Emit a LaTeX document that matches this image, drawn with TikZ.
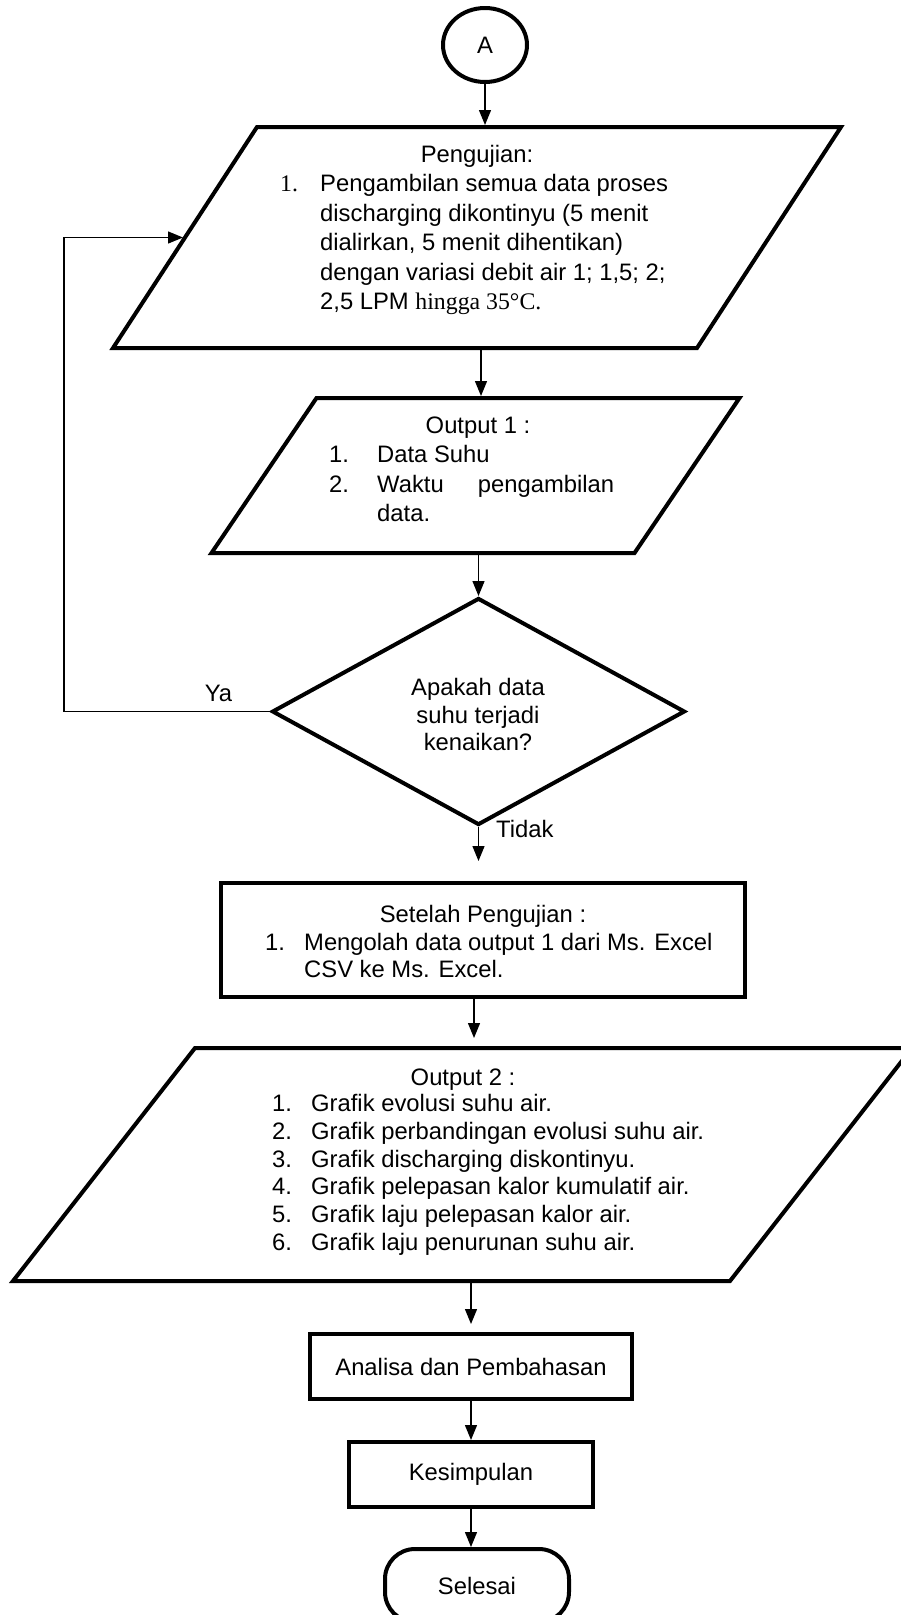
\documentclass[tikz,border=0pt]{standalone}
\usepackage{fontspec}
\setmainfont{Liberation Sans}
\newfontfamily\timesfont{Liberation Serif}
\usetikzlibrary{arrows.meta,positioning,shapes.geometric}
\newcommand{\fs}[1]{\fontsize{23.8}{#1}\selectfont}
% data box: name, cx, cy, side, height, skew
\newcommand{\iobox}[6]{%
  \node[inner sep=0pt,outer sep=2pt,minimum width=#4pt,minimum height=#5pt] (#1) at (#2,#3) {};
  \draw[line width=4pt] (#2-#4/2+#6/2,#3-#5/2) -- ++(#4,0) -- ++(-#6,#5) -- ++(-#4,0) -- cycle;
}

\tikzset{
  box/.style={draw,line width=4pt,inner sep=0pt},
  txt/.style={inner sep=0pt,font=\fs{28}},
  arr/.style={-{Triangle[length=15pt,width=12pt]},line width=1.3pt},
}

\begin{document}
\begin{tikzpicture}[x=1pt,y=-1pt]
  \fill[white] (0,0) rectangle (900,1615);
  \useasboundingbox (0,0) rectangle (900,1615);

  % connector A
  \node[box,txt,ellipse,minimum width=84pt,minimum height=74pt] (A) at (485,45) {A};

  % pengujian
  \iobox{uji}{477}{237.5}{584}{221}{144}
  \node[txt,anchor=base] (ujiT) at (477,162.5) {Pengujian:};
  \node[txt,anchor=base west] (ujiL) at (280,191.5) {\fs{29.5}%
    \begin{tabular}[t]{@{}p{40pt}@{}l@{}}
      {\timesfont 1.} & Pengambilan semua data proses\\
      & discharging dikontinyu (5 menit\\
      & dialirkan, 5 menit dihentikan)\\
      & dengan variasi debit air 1; 1,5; 2;\\
      & 2,5 LPM {\timesfont hingga 35°C.}
    \end{tabular}};

  % output 1
  \iobox{out1}{475.5}{475.5}{423}{155}{105}
  \node[txt,anchor=base] (out1T) at (478,433.5) {Output 1 :};
  \node[txt,anchor=base west] (out1L) at (329,462.5) {\fs{29.6}%
    \begin{tabular}[t]{@{}p{48pt}@{}l@{}}
      1. & Data Suhu\\
      2. & \makebox[237pt][s]{Waktu pengambilan}\\
      & data.
    \end{tabular}};

  % keputusan
  \node[box,diamond,minimum width=413pt,minimum height=227pt] (dec) at (478.5,711.5) {};
  \node[txt,anchor=base] (decT) at (478,695.5) {\fs{27.5}%
    \begin{tabular}[t]{@{}c@{}}Apakah data\\suhu terjadi\\kenaikan?\end{tabular}};
  \coordinate (fbx) at (64,711.5);
  \node[txt,anchor=base west] (tidak) at (496,837.5) {Tidak};

  % setelah pengujian
  \node[box,minimum width=524pt,minimum height=114pt] (proc) at (483,940) {};
  \node[txt,anchor=base] (procT) at (483,922.5) {Setelah Pengujian :};
  \node[txt,anchor=base west] (procL) at (265,950.5) {\fs{26.5}%
    \begin{tabular}[t]{@{}p{39pt}@{}l@{}}
      1. & Mengolah data output 1 dari Ms. Excel\\
      & CSV ke Ms. Excel.
    \end{tabular}};

  % output 2
  \iobox{out2}{462.5}{1164.5}{717}{233}{182}
  \node[txt,anchor=base] (out2T) at (463,1085.5) {Output 2 :};
  \node[txt,anchor=base west] (out2L) at (272,1111.5) {\fs{27.8}%
    \begin{tabular}[t]{@{}p{39pt}@{}l@{}}
      1. & Grafik evolusi suhu air.\\
      2. & Grafik perbandingan evolusi suhu air.\\
      3. & Grafik discharging diskontinyu.\\
      4. & Grafik pelepasan kalor kumulatif air.\\
      5. & Grafik laju pelepasan kalor air.\\
      6. & Grafik laju penurunan suhu air.
    \end{tabular}};

  % akhir
  \node[box,txt,minimum width=322pt,minimum height=65pt] (anal) at (471,1366.5) {Analisa dan Pembahasan};
  \node[box,txt,minimum width=244pt,minimum height=65pt] (kes) at (471,1474.5) {Kesimpulan};
  \node[box,txt,rounded corners=30pt,minimum width=184pt,minimum height=73pt] (fin) at (477,1585.5) {Selesai};

  % panah
  \draw[arr] (A.south) -- (A.south |- uji.north);
  \draw[arr] ([xshift=4pt]uji.south) -- ([xshift=4pt]uji.south |- out1.north);
  \draw[arr] (out1.south -| dec.north) -- (dec.north);
  \draw[arr] (dec.west) -- node[txt,pos=0.25,above=9pt] (ya) {Ya} (fbx) |- (uji.west);
  \draw[arr,shorten >=20pt] (dec.south) -- (dec.south |- proc.north);
  \draw[arr,shorten >=8pt] ([xshift=-9pt]proc.south) -- ([xshift=-9pt]proc.south |- out2.north);
  \draw[arr,shorten >=8pt] (anal.north |- out2.south) -- (anal.north);
  \draw[arr] (anal) -- (kes);
  \draw[arr] (kes.south) -- (kes.south |- fin.north);
\end{tikzpicture}
\end{document}
